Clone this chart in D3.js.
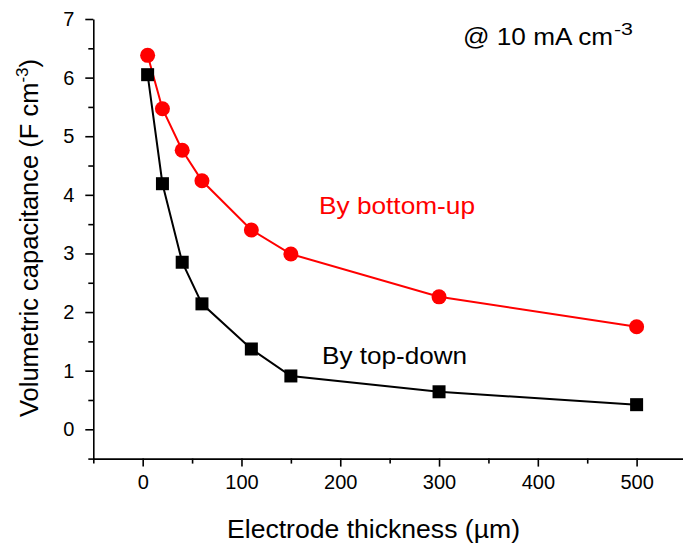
<!DOCTYPE html>
<html>
<head>
<meta charset="utf-8">
<script src="https://cdn.jsdelivr.net/npm/d3@7"></script>
<style>
  body { margin: 0; background: #fff; }
  svg { display: block; font-family: "Liberation Sans", Arial, sans-serif; }
  .axis path, .axis line { stroke: #000; stroke-width: 1.6px; }
  .axis text { font-size: 20px; fill: #000; font-family: "Liberation Sans", Arial, sans-serif; }
</style>
</head>
<body>
<div id="chart"></div>
<script>
var width = 683;
var height = 547;

// thickness (um) and volumetric capacitance (F cm-3)
var thickness = [5, 20, 40, 60, 110, 150, 300, 500];
var bottomUp = [6.38, 5.47, 4.76, 4.24, 3.40, 2.99, 2.26, 1.75];
var topDown = [6.05, 4.19, 2.85, 2.14, 1.37, 0.91, 0.64, 0.42];

var xMajor = [0, 100, 200, 300, 400, 500];
var xMinor = [-50, 50, 150, 250, 350, 450, 550];
var yMajor = [0, 1, 2, 3, 4, 5, 6, 7];
var yMinor = [-0.5, 0.5, 1.5, 2.5, 3.5, 4.5, 5.5, 6.5];

var x = d3.scaleLinear().domain([-50, 550]).range([93.3, 686]);
var y = d3.scaleLinear().domain([-0.5, 7]).range([458.6, 19]);

var svg = d3.select("#chart")
    .append("svg")
    .attr("width", width)
    .attr("height", height);

// minor ticks first, then the major axes on top
svg.append("g")
    .attr("class", "axis")
    .attr("transform", "translate(0," + y(-0.5) + ")")
    .call(d3.axisBottom(x).tickValues(xMinor).tickSize(5).tickFormat(""))
    .select(".domain").remove();
svg.append("g")
    .attr("class", "axis")
    .attr("transform", "translate(" + x(-50) + ",0)")
    .call(d3.axisLeft(y).tickValues(yMinor).tickSize(5).tickFormat(""))
    .select(".domain").remove();

svg.append("g")
    .attr("class", "axis")
    .attr("transform", "translate(0," + y(-0.5) + ")")
    .call(d3.axisBottom(x).tickValues(xMajor).tickSize(8).tickSizeOuter(0).tickPadding(8))
    .selectAll("text").attr("dy", "0.72em");

svg.append("g")
    .attr("class", "axis")
    .attr("transform", "translate(" + x(-50) + ",0)")
    .call(d3.axisLeft(y).tickValues(yMajor).tickSize(8).tickSizeOuter(0).tickPadding(11));

// lines
var lineUp = d3.line()
    .x(function(d, i){ return x(thickness[i]); })
    .y(function(d){ return y(d); });

svg.append("path")
    .datum(bottomUp)
    .attr("d", lineUp)
    .attr("fill", "none")
    .attr("stroke", "#ff0000")
    .attr("stroke-width", 2);

svg.append("path")
    .datum(topDown)
    .attr("d", lineUp)
    .attr("fill", "none")
    .attr("stroke", "#000")
    .attr("stroke-width", 2);

// markers
svg.selectAll(".sq")
    .data(topDown)
    .enter()
    .append("rect")
    .attr("class", "sq")
    .attr("x", function(d, i){ return x(thickness[i]) - 6.5; })
    .attr("y", function(d){ return y(d) - 6.5; })
    .attr("width", 13)
    .attr("height", 13)
    .attr("fill", "#000");

svg.selectAll(".dot")
    .data(bottomUp)
    .enter()
    .append("circle")
    .attr("class", "dot")
    .attr("cx", function(d, i){ return x(thickness[i]); })
    .attr("cy", function(d){ return y(d); })
    .attr("r", 7.5)
    .attr("fill", "#ff0000");

// labels (the source text is a bit wider than Arial, so stretch it)
svg.append("text")
    .attr("x", 463)
    .attr("y", 45)
    .attr("font-size", "23px")
    .attr("textLength", 150)
    .attr("lengthAdjust", "spacingAndGlyphs")
    .text("@ 10 mA cm");
svg.append("text")
    .attr("x", 614)
    .attr("y", 35)
    .attr("font-size", "16px")
    .attr("textLength", 19)
    .attr("lengthAdjust", "spacingAndGlyphs")
    .text("-3");

svg.append("text")
    .attr("x", 319)
    .attr("y", 214)
    .attr("font-size", "24px")
    .attr("fill", "#ff0000")
    .attr("textLength", 156)
    .attr("lengthAdjust", "spacingAndGlyphs")
    .text("By bottom-up");

svg.append("text")
    .attr("x", 322)
    .attr("y", 364)
    .attr("font-size", "24px")
    .attr("fill", "#000")
    .attr("textLength", 145)
    .attr("lengthAdjust", "spacingAndGlyphs")
    .text("By top-down");

// axis titles
svg.append("text")
    .attr("x", 227)
    .attr("y", 538)
    .attr("font-size", "25px")
    .attr("textLength", 293)
    .attr("lengthAdjust", "spacingAndGlyphs")
    .text("Electrode thickness (\u00b5m)");

var yTitle = svg.append("text")
    .attr("transform", "translate(38,238) rotate(-90)")
    .attr("text-anchor", "middle")
    .attr("font-size", "25.5px")
    .text("Volumetric capacitance (F cm");
yTitle.append("tspan")
    .attr("font-size", "17px")
    .attr("dy", "-10")
    .text("-3");
yTitle.append("tspan")
    .attr("dy", "10")
    .text(")");
</script>
</body>
</html>
